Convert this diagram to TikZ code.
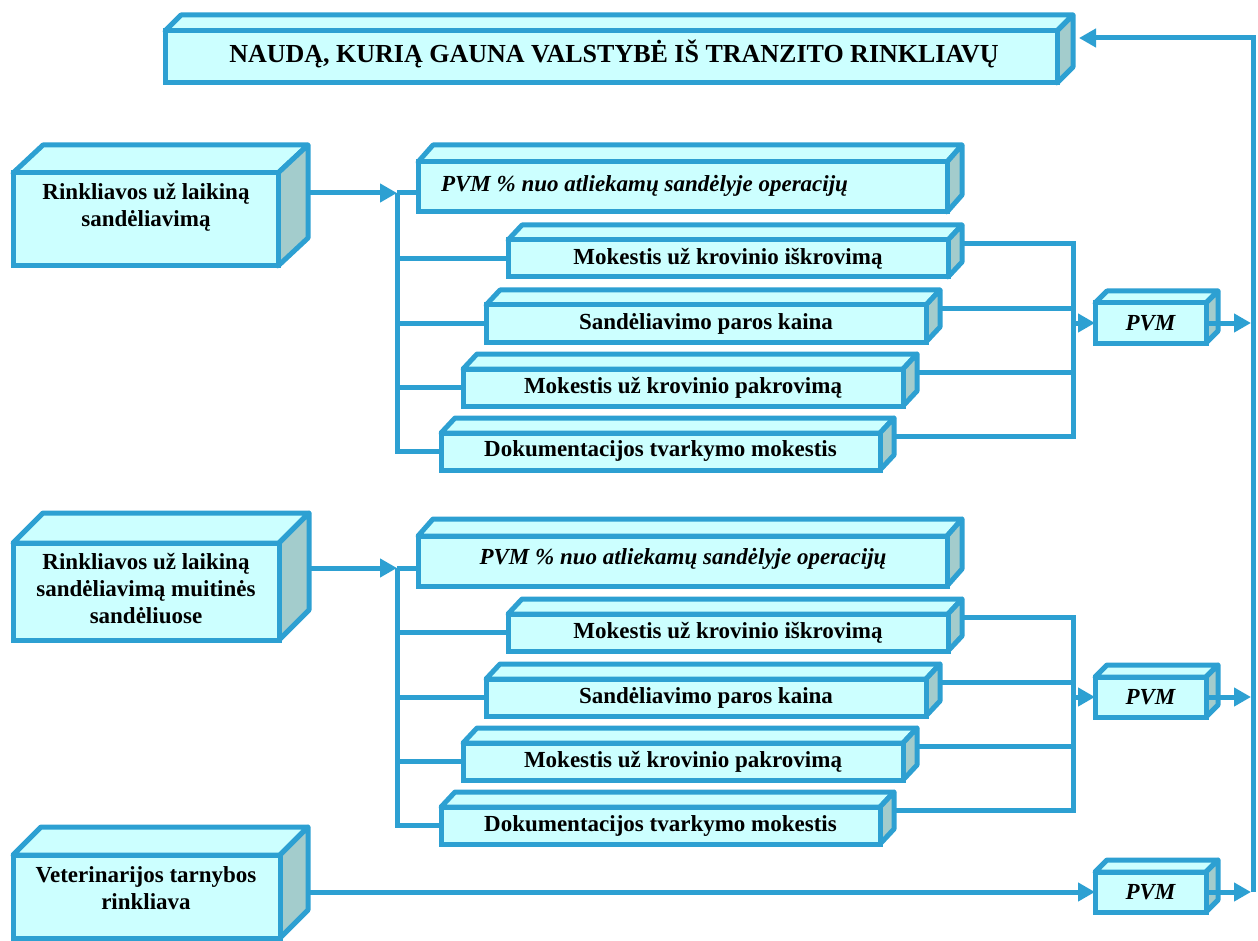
\documentclass[tikz,border=0pt]{standalone}
\usepackage{fontspec}
\setmainfont{Liberation Serif}
\usetikzlibrary{arrows.meta}
\definecolor{lineblue}{RGB}{45,160,210}
\definecolor{facefill}{RGB}{204,255,255}
\definecolor{sidefill}{RGB}{163,204,204}
\tikzset{
  edge/.style={draw=lineblue, line width=5pt},
  face/.style={edge, fill=facefill},
  side/.style={edge, fill=sidefill},
  conn/.style={draw=lineblue, line width=5pt},
  arr/.style={-{Triangle[length=17pt,width=18pt]}},
  lbl/.style={font=\bfseries\fontsize{23}{27}\selectfont, align=center, inner sep=0pt, outer sep=0pt},
  ilbl/.style={lbl, font=\bfseries\itshape\fontsize{23}{27}\selectfont},
}
% #1 name, (#2,#3) front top-left, (#4,#5) front bottom-right, #6/#7 depth, #8 text
\newcommand\cuboid[8]{%
  \path[face, line join=round] (#2,#3) -- ({#2+#6},{#3-#7}) -- ({#4+#6},{#3-#7}) -- (#4,#3) -- cycle;
  \path[side, line join=round] (#4,#3) -- ({#4+#6},{#3-#7}) -- ({#4+#6},{#5-#7}) -- (#4,#5) -- cycle;
  \node[face, lbl, minimum width={(#4-#2)*1pt}, minimum height={(#5-#3)*1pt}, anchor=north west] (#1) at (#2,#3) {#8};
  \coordinate (#1-b) at ({#4+#6},{(#3+#5)/2-#7});
}
\begin{document}
\begin{tikzpicture}[x=1pt,y=-1pt]
\useasboundingbox (0,0) rectangle (1258,941);

% title
\cuboid{title}{165}{31}{1057}{83}{16}{16}{}
\node[lbl, font=\bfseries\fontsize{26}{30}\selectfont] (ttitle) at (614,54) {NAUDĄ, KURIĄ GAUNA VALSTYBĖ IŠ TRANZITO RINKLIAVŲ};

% source boxes
\cuboid{r1}{13}{173}{278}{266}{30}{28}{}
\node[lbl] (tr1) at (146,207) {Rinkliavos už laikiną\\sandėliavimą};
\cuboid{r2}{13}{543}{279}{640}{30}{30}{}
\node[lbl] (tr2) at (146,589) {Rinkliavos už laikiną\\sandėliavimą muitinės\\sandėliuose};
\cuboid{r3}{13}{855}{280}{938}{28}{28}{}
\node[lbl] (tr3) at (146,888) {Veterinarijos tarnybos\\rinkliava};

% first group
\cuboid{a1}{418}{162}{947}{212}{15}{17}{}
\node[ilbl, anchor=west] (ta1) at (441,186) {PVM \% nuo atliekamų sandėlyje operacijų};
\cuboid{m1}{508}{240}{948}{277}{14}{15}{Mokestis už krovinio iškrovimą}
\cuboid{s1}{486}{305}{926}{342}{14}{15}{Sandėliavimo paros kaina}
\cuboid{k1}{463}{369}{903}{406}{14}{15}{Mokestis už krovinio pakrovimą}
\cuboid{d1}{441}{433}{880}{470}{14}{15}{Dokumentacijos tvarkymo mokestis}
\cuboid{p1}{1095}{303}{1206}{343}{12}{12}{\itshape PVM}

% second group
\cuboid{a2}{418}{536}{947}{586}{15}{17}{}
\node[ilbl] (ta2) at (683,559) {PVM \% nuo atliekamų sandėlyje operacijų};
\cuboid{m2}{508}{614}{948}{651}{14}{15}{Mokestis už krovinio iškrovimą}
\cuboid{s2}{486}{679}{926}{716}{14}{15}{Sandėliavimo paros kaina}
\cuboid{k2}{463}{743}{903}{780}{14}{15}{Mokestis už krovinio pakrovimą}
\cuboid{d2}{441}{807}{880}{844}{14}{15}{Dokumentacijos tvarkymo mokestis}
\cuboid{p2}{1095}{677}{1206}{717}{12}{12}{\itshape PVM}

% veterinary
\cuboid{p3}{1095}{872}{1206}{912}{12}{12}{\itshape PVM}

% junction points
\coordinate (j1) at (397,193);
\coordinate (j2) at (397,568);
\coordinate (c1) at (1073,243);
\coordinate (c2) at (1073,617);
\coordinate (top) at (1253,38);

% first group connectors
\draw[conn, arr] (r1-b |- j1) -- (j1);
\draw[conn] (j1) -- (j1 -| a1.west);
\draw[conn] (j1) -- (j1 |- d1.west) -- (d1.west);
\draw[conn] (j1 |- m1.west) -- (m1.west);
\draw[conn] (j1 |- s1.west) -- (s1.west);
\draw[conn] (j1 |- k1.west) -- (k1.west);
\draw[conn] (m1-b) -- (c1 |- m1-b) -- (c1 |- d1-b) -- (d1-b);
\draw[conn] (s1-b) -- (c1 |- s1-b);
\draw[conn] (k1-b) -- (c1 |- k1-b);
\draw[conn, arr] (c1 |- p1.west) -- (p1.west);
\draw[conn, arr, shorten >=2pt] (p1.east) -- (p1.east -| top);

% second group connectors
\draw[conn, arr] (r2-b |- j2) -- (j2);
\draw[conn] (j2) -- (j2 -| a2.west);
\draw[conn] (j2) -- (j2 |- d2.west) -- (d2.west);
\draw[conn] (j2 |- m2.west) -- (m2.west);
\draw[conn] (j2 |- s2.west) -- (s2.west);
\draw[conn] (j2 |- k2.west) -- (k2.west);
\draw[conn] (m2-b) -- (c2 |- m2-b) -- (c2 |- d2-b) -- (d2-b);
\draw[conn] (s2-b) -- (c2 |- s2-b);
\draw[conn] (k2-b) -- (c2 |- k2-b);
\draw[conn, arr] (c2 |- p2.west) -- (p2.west);
\draw[conn, arr, shorten >=2pt] (p2.east) -- (p2.east -| top);

% veterinary connectors
\draw[conn, arr] (r3-b |- p3.west) -- (p3.west);
\draw[conn, arr, shorten >=2pt] (p3.east) -- (p3.east -| top);

% collector back to the title
\draw[conn, arr, shorten >=6pt] (top |- p3.east) -- (top) -- (title-b |- top);
\end{tikzpicture}
\end{document}
